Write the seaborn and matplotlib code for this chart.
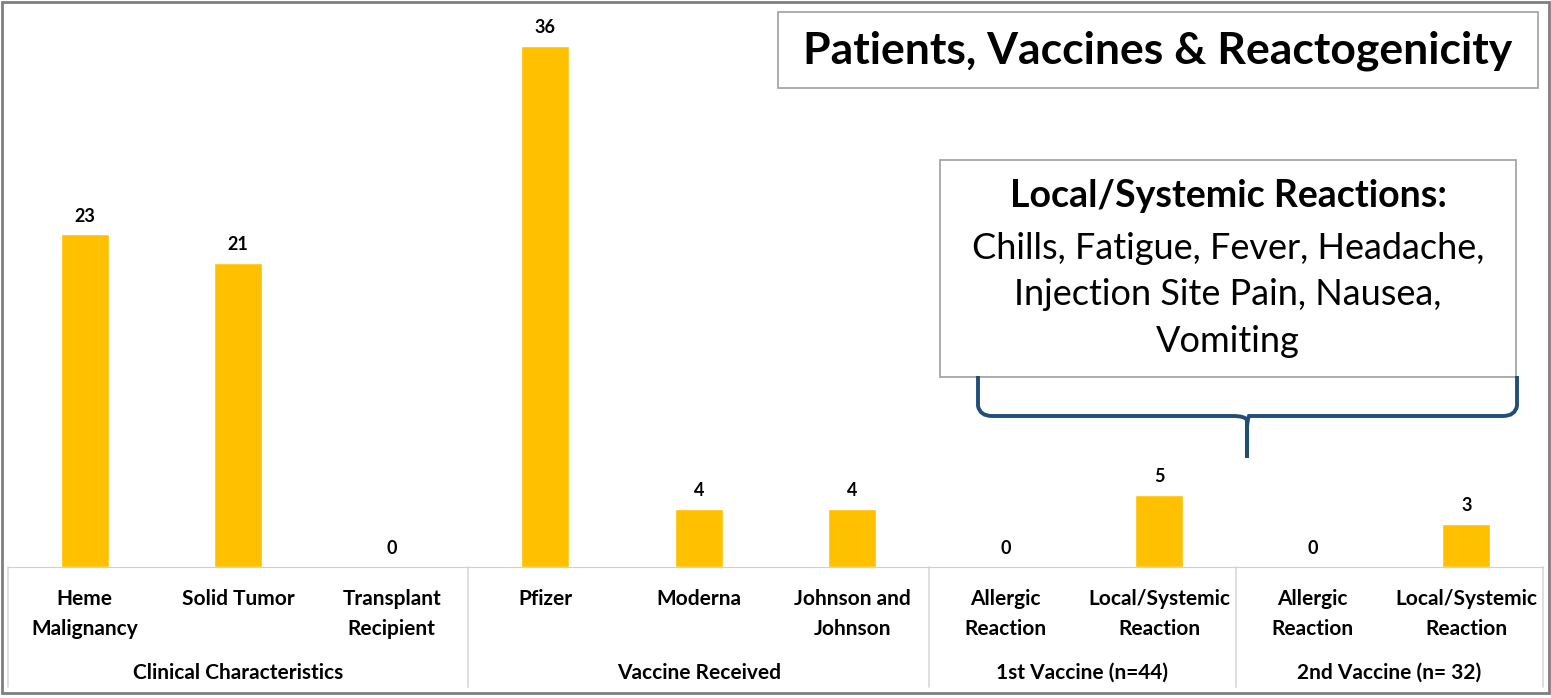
import matplotlib
matplotlib.use("Agg")
import matplotlib.pyplot as plt
import seaborn as sns
import pandas as pd
from matplotlib.patches import Rectangle, PathPatch
from matplotlib.path import Path

# chart values
categories = ["Heme\nMalignancy", "Solid Tumor", "Transplant\nRecipient",
              "Pfizer", "Moderna", "Johnson and\nJohnson",
              "Allergic\nReaction", "Local/Systemic\nReaction",
              "Allergic\nReaction", "Local/Systemic\nReaction"]
counts = [23, 21, 0, 36, 4, 4, 0, 5, 0, 3]
groups = ["Clinical Characteristics", "Vaccine Received",
          "1st Vaccine (n=44)", "2nd Vaccine (n= 32)"]
group_sizes = [3, 3, 2, 2]
title = "Patients, Vaccines & Reactogenicity"
note_head = "Local/Systemic Reactions:"
note_body = "Chills, Fatigue, Fever, Headache,\nInjection Site Pain, Nausea,\nVomiting"

sns.set_style("white")
plt.rcParams["font.family"] = ["Lato", "DejaVu Sans"]
plt.rcParams["text.color"] = "black"
plt.rcParams["xtick.color"] = "black"

W, H = 1551, 698
fig = plt.figure(figsize=(W / 100, H / 100), dpi=100)
ax = fig.add_axes([8 / W, (H - 567) / H, 1535 / W, 557 / H])

df = pd.DataFrame({"pos": range(len(counts)), "count": counts})
sns.barplot(data=df, x="pos", y="count", color="#FFC000", saturation=1,
            width=0.31, ax=ax)
ax.set_xlim(-0.5, len(counts) - 0.5)
ax.set_ylim(0, 38.5)
for c in ax.containers:
    ax.bar_label(c, padding=7, fontsize=13, fontweight="bold", color="black")

ax.set_xticks(range(len(counts)))
ax.set_xticklabels(categories, fontsize=15, fontweight="bold", linespacing=1.6)
ax.tick_params(axis="x", length=0, pad=16)
ax.set_yticks([])
ax.set_xlabel("")
ax.set_ylabel("")
for s in ["top", "left", "right"]:
    ax.spines[s].set_visible(False)
ax.spines["bottom"].set_color("#d0d0d0")

# group table below the axis
tf = ax.get_xaxis_transform()
edges = [-0.5]
for g in group_sizes:
    edges.append(edges[-1] + g)
for e in edges:
    ax.plot([e, e], [0, -0.215], transform=tf, color="#d9d9d9", lw=1.2,
            clip_on=False)
for i, g in enumerate(groups):
    mid = (edges[i] + edges[i + 1]) / 2
    ax.text(mid, -0.19, g, transform=tf, ha="center", va="center",
            fontsize=15, fontweight="bold")

# title box
fig.patches.append(Rectangle((778 / W, 1 - 88 / H), 760 / W, 76 / H,
                             transform=fig.transFigure, fill=False,
                             edgecolor="#a6a6a6", lw=1.3))
fig.text(1158 / W, 1 - 51 / H, title, ha="center", va="center",
         fontsize=32, fontweight="bold")

# note box
fig.patches.append(Rectangle((940 / W, 1 - 377 / H), 576 / W, 217 / H,
                             transform=fig.transFigure, facecolor="white",
                             edgecolor="#a6a6a6", lw=1.3))
fig.text(1228 / W, 1 - 196 / H, note_head, ha="center", va="center",
         fontsize=27, fontweight="bold")
fig.text(1228 / W, 1 - 295 / H, note_body, ha="center", va="center",
         fontsize=26, linespacing=1.5)

# curly brace
x0, x1, xm = 978, 1517, 1247
yt, yh, yb = 376, 416, 458
verts = [(x0, yt), (x0, yh - 10), (x0 + 2, yh), (x0 + 14, yh),
         (xm - 14, yh), (xm - 2, yh), (xm, yh + 4), (xm, yh + 14),
         (xm, yb), (xm, yh + 14), (xm, yh + 4), (xm + 2, yh), (xm + 14, yh),
         (x1 - 14, yh), (x1 - 2, yh), (x1, yh - 10), (x1, yt)]
verts = [(x / W, 1 - y / H) for x, y in verts]
codes = [Path.MOVETO, Path.LINETO, Path.CURVE3, Path.CURVE3,
         Path.LINETO, Path.CURVE3, Path.CURVE3, Path.LINETO,
         Path.LINETO, Path.LINETO, Path.CURVE3, Path.CURVE3, Path.CURVE3,
         Path.LINETO, Path.CURVE3, Path.CURVE3, Path.LINETO]
fig.patches.append(PathPatch(Path(verts, codes), transform=fig.transFigure,
                             fill=False, edgecolor="#1f4e79", lw=2.8))

# outer frame
fig.patches.append(Rectangle((1.5 / W, 5 / H), (W - 4) / W, (H - 7) / H,
                             transform=fig.transFigure, fill=False,
                             edgecolor="#7f7f7f", lw=2))

fig.savefig("out.png", dpi=100)
